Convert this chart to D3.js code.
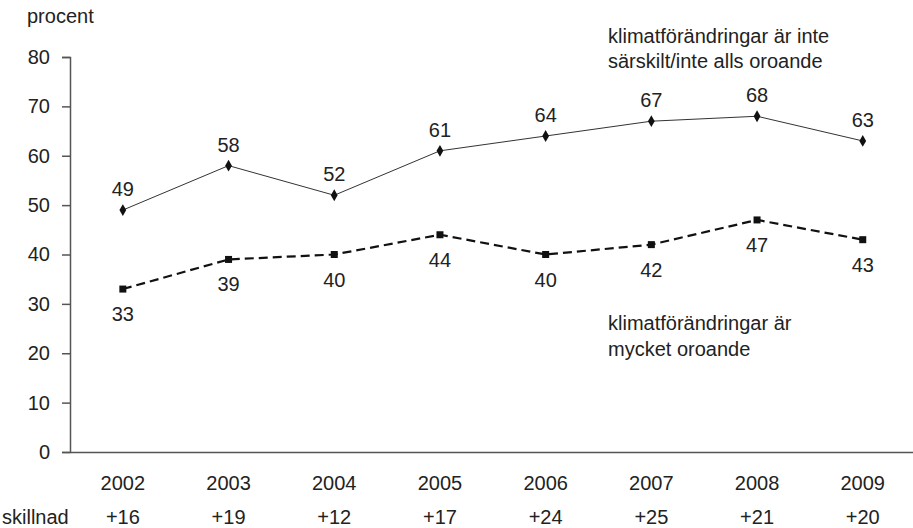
<!DOCTYPE html>
<html>
<head>
<meta charset="utf-8">
<style>
body { margin: 0; background: #fff; }
text { font-family: "Liberation Sans", Arial, sans-serif; font-size: 20px; fill: #222; }
.yaxis path, .yaxis line, .xaxis path { stroke: #555; stroke-width: 1.5; }
</style>
</head>
<body>
<div id="chart"></div>
<script src="https://cdn.jsdelivr.net/npm/d3@7"></script>
<script>
var years = ["2002", "2003", "2004", "2005", "2006", "2007", "2008", "2009"];
var notWorried = [49, 58, 52, 61, 64, 67, 68, 63];
var veryWorried = [33, 39, 40, 44, 40, 42, 47, 43];
var diffs = ["+16", "+19", "+12", "+17", "+24", "+25", "+21", "+20"];
var yTicks = [0, 10, 20, 30, 40, 50, 60, 70, 80];

(function() {
    var dimensions = { width: 913, height: 528 };
    var margins = { top: 57, right: 0, bottom: 76, left: 70 };

    var svg = d3.select("#chart")
        .append("svg")
        .attr("width", dimensions.width)
        .attr("height", dimensions.height);

    var xscale = d3.scaleBand()
        .domain(years)
        .range([margins.left, margins.left + 8 * 105.7]);
    var yscale = d3.scaleLinear()
        .domain([0, 80])
        .range([dimensions.height - margins.bottom, margins.top]);

    function xc(d) { return xscale(d) + xscale.bandwidth() / 2; }

    // y axis
    var yaxis = d3.axisLeft(yscale).tickValues(yTicks).tickSize(8).tickPadding(12);
    var gy = svg.append("g")
        .attr("class", "yaxis")
        .attr("transform", "translate(" + margins.left + ",0)")
        .call(yaxis);
    gy.selectAll("text").style("font-size", "20px").attr("fill", "#222");

    // x axis line
    svg.append("g")
        .attr("class", "xaxis")
        .attr("transform", "translate(0," + yscale(0) + ")")
        .call(d3.axisBottom(xscale).tickSize(0).tickFormat(""));

    // year labels
    svg.append("g").selectAll("text")
        .data(years)
        .enter().append("text")
        .attr("x", function(d) { return xc(d); })
        .attr("y", 490)
        .attr("text-anchor", "middle")
        .text(function(d) { return d; });

    // difference row
    svg.append("text").attr("x", 2).attr("y", 524).text("skillnad");
    svg.append("g").selectAll("text")
        .data(diffs)
        .enter().append("text")
        .attr("x", function(d, i) { return xc(years[i]); })
        .attr("y", 524)
        .attr("text-anchor", "middle")
        .text(function(d) { return d; });

    svg.append("text").attr("x", 27).attr("y", 23).text("procent");

    var line = d3.line()
        .x(function(d, i) { return xc(years[i]); })
        .y(function(d) { return yscale(d); });

    // series 1: not worried
    svg.append("path")
        .datum(notWorried)
        .attr("d", line)
        .attr("fill", "none")
        .attr("stroke", "#333")
        .attr("stroke-width", 1);
    svg.append("g").selectAll("path")
        .data(notWorried)
        .enter().append("path")
        .attr("d", d3.symbol().type(d3.symbolDiamond).size(40))
        .attr("transform", function(d, i) { return "translate(" + xc(years[i]) + "," + yscale(d) + ")"; })
        .attr("fill", "#111");
    svg.append("g").selectAll("text")
        .data(notWorried)
        .enter().append("text")
        .attr("x", function(d, i) { return xc(years[i]); })
        .attr("y", function(d) { return yscale(d) - 14; })
        .attr("text-anchor", "middle")
        .text(function(d) { return d; });

    // series 2: very worried
    svg.append("path")
        .datum(veryWorried)
        .attr("d", line)
        .attr("fill", "none")
        .attr("stroke", "#111")
        .attr("stroke-width", 2.2)
        .attr("stroke-dasharray", "9,5");
    svg.append("g").selectAll("rect")
        .data(veryWorried)
        .enter().append("rect")
        .attr("x", function(d, i) { return xc(years[i]) - 3.5; })
        .attr("y", function(d) { return yscale(d) - 3.5; })
        .attr("width", 7)
        .attr("height", 7)
        .attr("fill", "#111");
    svg.append("g").selectAll("text")
        .data(veryWorried)
        .enter().append("text")
        .attr("x", function(d, i) { return xc(years[i]); })
        .attr("y", function(d) { return yscale(d) + 32; })
        .attr("text-anchor", "middle")
        .text(function(d) { return d; });

    // series annotations
    var notes = [
        { x: 608, y: 43, t: "klimatförändringar är inte" },
        { x: 608, y: 68, t: "särskilt/inte alls oroande" },
        { x: 608, y: 330, t: "klimatförändringar är" },
        { x: 608, y: 356, t: "mycket oroande" }
    ];
    svg.append("g").selectAll("text")
        .data(notes)
        .enter().append("text")
        .attr("x", function(d) { return d.x; })
        .attr("y", function(d) { return d.y; })
        .text(function(d) { return d.t; });
})();
</script>
</body>
</html>
